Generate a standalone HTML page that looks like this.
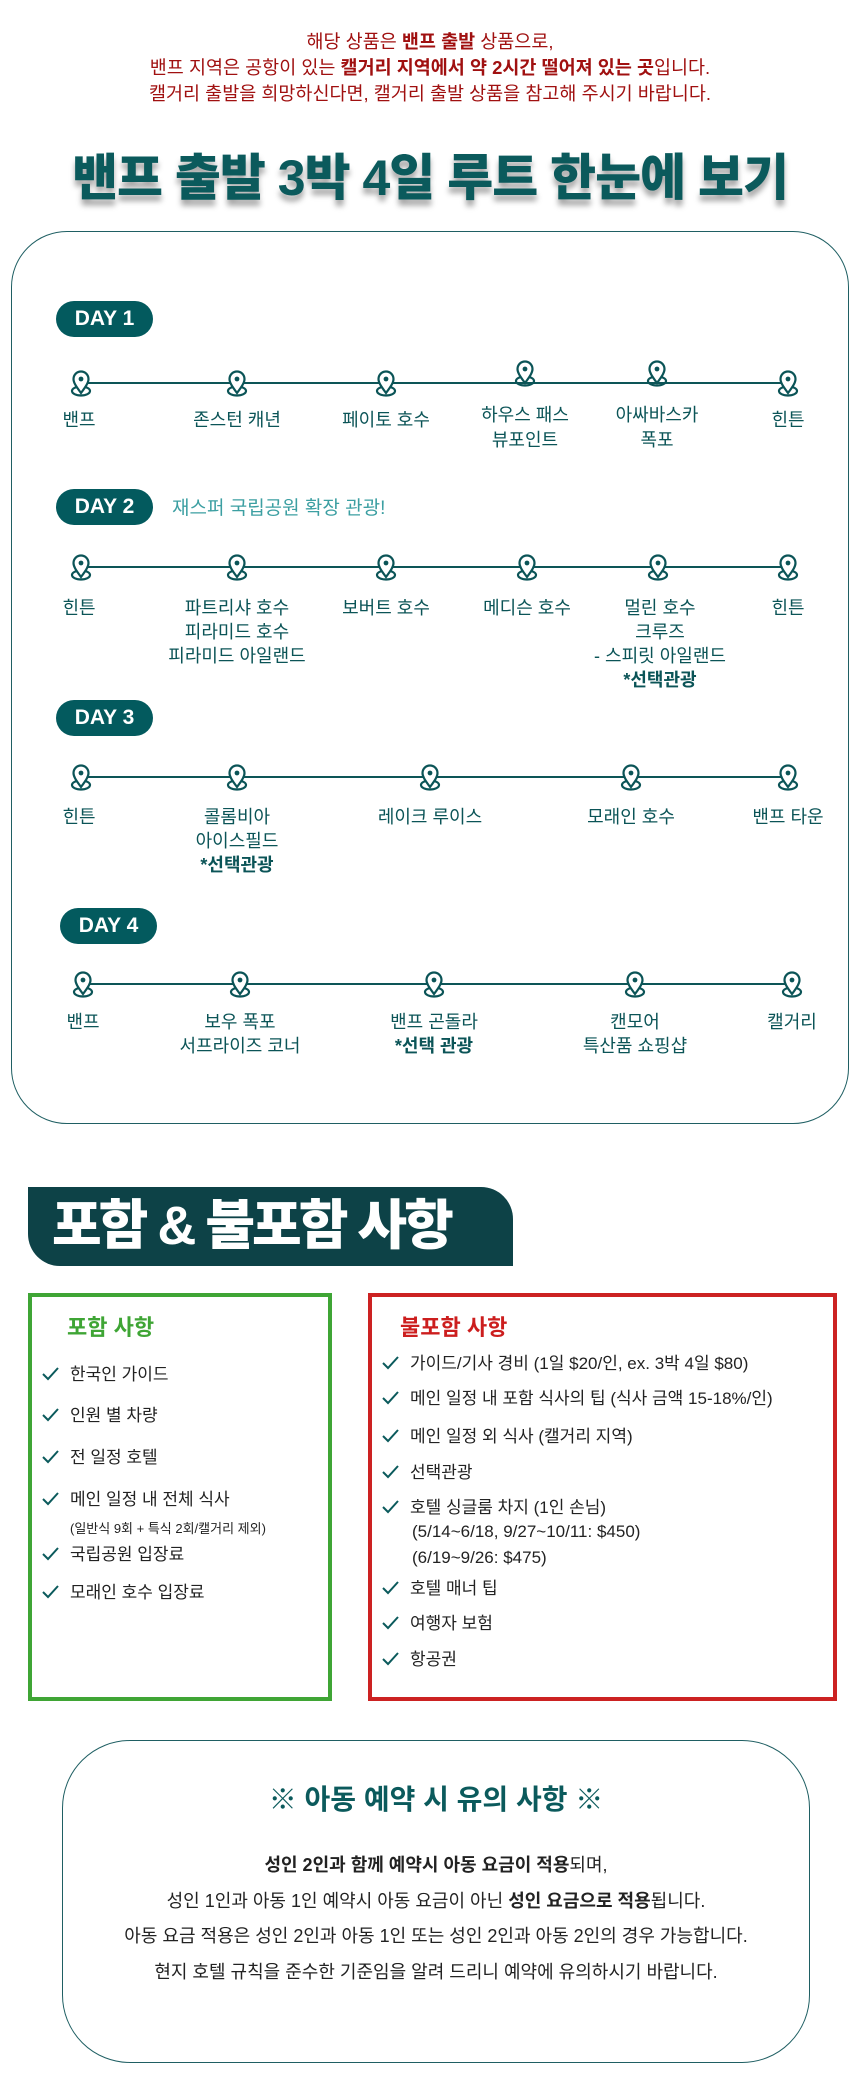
<!DOCTYPE html>
<html><head><meta charset="utf-8"><style>
*{margin:0;padding:0;box-sizing:border-box}
body{width:860px;height:2100px;background:#fff;position:relative;overflow:hidden;font-family:"Liberation Sans","Noto Sans CJK KR",sans-serif}
.a{position:absolute}
.c{position:absolute;transform:translateX(-50%);text-align:center;white-space:nowrap}
.red{color:#a01010;font-size:18.5px;line-height:24px;width:860px;text-align:center;left:0}
.title{left:0;width:860px;text-align:center;font-size:50px;font-weight:900;color:#0b5a5c;text-shadow:0 6px 6px rgba(0,0,0,.35);top:138px;letter-spacing:-1px}
.box{border:1.5px solid #1f5f63;border-radius:56px}
.pill{background:#035a5e;color:#fff;font-weight:700;font-size:21px;border-radius:20px;height:36px;line-height:36px;width:97px;text-align:center}
.line{height:2px;background:#0d5557}
.lbl{color:#0b5457;font-size:18px;line-height:25px}
.pin{position:absolute;width:24px;height:28px;transform:translateX(-50%)}
.hd{background:#0d4247;color:#fff;font-weight:900;font-size:54px;line-height:79px;border-radius:0 32px 0 32px;padding-left:24px;white-space:nowrap;letter-spacing:-3px;overflow:hidden}
.it{font-size:17px;color:#222;line-height:22px;white-space:nowrap}
.ck{display:inline-block;width:18px;height:14px;margin-right:10px;vertical-align:-1px}
</style></head><body>
<svg width="0" height="0" style="position:absolute"><defs>
<g id="p"><ellipse cx="12" cy="21" rx="9" ry="4.5" fill="none" stroke="#0b5457" stroke-width="2.2"/><path d="M12 23 C6 15 4.5 12 4.5 9 A7.5 7.5 0 0 1 19.5 9 C19.5 12 18 15 12 23Z" fill="#fff" stroke="#0b5457" stroke-width="2.2"/><circle cx="12" cy="9" r="2.4" fill="#0b5457"/></g>
<path id="k" d="M1 7 L6 12 L16 1" fill="none" stroke="#0b5a5c" stroke-width="2"/>
</defs></svg>
<div class="a red" style="top:30px">해당 상품은 <b>밴프 출발</b> 상품으로,</div>
<div class="a red" style="top:56px">밴프 지역은 공항이 있는 <b>캘거리 지역에서 약 2시간 떨어져 있는 곳</b>입니다.</div>
<div class="a red" style="top:82px">캘거리 출발을 희망하신다면, 캘거리 출발 상품을 참고해 주시기 바랍니다.</div>
<div class="a title">밴프 출발 3박 4일 루트 한눈에 보기</div>

<div class="a box" style="left:11px;top:231px;width:838px;height:893px"></div>

<!-- DAY1 -->
<div class="a pill" style="left:56px;top:301px">DAY 1</div>
<div class="a line" style="left:81px;top:382px;width:707px"></div>
<svg class="pin" style="left:81px;top:370px"><use href="#p"/></svg>
<svg class="pin" style="left:237px;top:370px"><use href="#p"/></svg>
<svg class="pin" style="left:386px;top:370px"><use href="#p"/></svg>
<svg class="pin" style="left:525px;top:360px"><use href="#p"/></svg>
<svg class="pin" style="left:657px;top:360px"><use href="#p"/></svg>
<svg class="pin" style="left:788px;top:370px"><use href="#p"/></svg>
<div class="c lbl" style="left:79px;top:408px">밴프</div>
<div class="c lbl" style="left:237px;top:408px">존스턴 캐년</div>
<div class="c lbl" style="left:386px;top:408px">페이토 호수</div>
<div class="c lbl" style="left:525px;top:403px">하우스 패스<br>뷰포인트</div>
<div class="c lbl" style="left:657px;top:403px">아싸바스카<br>폭포</div>
<div class="c lbl" style="left:788px;top:408px">힌튼</div>

<!-- DAY2 -->
<div class="a pill" style="left:56px;top:489px">DAY 2</div>
<div class="a" style="left:172px;top:493px;font-size:19px;color:#3c9fa2">재스퍼 국립공원 확장 관광!</div>
<div class="a line" style="left:81px;top:566px;width:707px"></div>
<svg class="pin" style="left:81px;top:554px"><use href="#p"/></svg>
<svg class="pin" style="left:237px;top:554px"><use href="#p"/></svg>
<svg class="pin" style="left:386px;top:554px"><use href="#p"/></svg>
<svg class="pin" style="left:527px;top:554px"><use href="#p"/></svg>
<svg class="pin" style="left:658px;top:554px"><use href="#p"/></svg>
<svg class="pin" style="left:788px;top:554px"><use href="#p"/></svg>
<div class="c lbl" style="left:79px;top:596px">힌튼</div>
<div class="c lbl" style="left:237px;top:596px;line-height:24px">파트리샤 호수<br>피라미드 호수<br>피라미드 아일랜드</div>
<div class="c lbl" style="left:386px;top:596px">보버트 호수</div>
<div class="c lbl" style="left:527px;top:596px">메디슨 호수</div>
<div class="c lbl" style="left:660px;top:596px;line-height:24px">멀린 호수<br>크루즈<br>- 스피릿 아일랜드<br><b>*선택관광</b></div>
<div class="c lbl" style="left:788px;top:596px">힌튼</div>

<!-- DAY3 -->
<div class="a pill" style="left:56px;top:700px">DAY 3</div>
<div class="a line" style="left:81px;top:776px;width:707px"></div>
<svg class="pin" style="left:81px;top:764px"><use href="#p"/></svg>
<svg class="pin" style="left:237px;top:764px"><use href="#p"/></svg>
<svg class="pin" style="left:430px;top:764px"><use href="#p"/></svg>
<svg class="pin" style="left:631px;top:764px"><use href="#p"/></svg>
<svg class="pin" style="left:788px;top:764px"><use href="#p"/></svg>
<div class="c lbl" style="left:79px;top:805px">힌튼</div>
<div class="c lbl" style="left:237px;top:805px;line-height:24px">콜롬비아<br>아이스필드<br><b>*선택관광</b></div>
<div class="c lbl" style="left:430px;top:805px">레이크 루이스</div>
<div class="c lbl" style="left:631px;top:805px">모래인 호수</div>
<div class="c lbl" style="left:788px;top:805px">밴프 타운</div>

<!-- DAY4 -->
<div class="a pill" style="left:60px;top:908px">DAY 4</div>
<div class="a line" style="left:83px;top:983px;width:707px"></div>
<svg class="pin" style="left:83px;top:971px"><use href="#p"/></svg>
<svg class="pin" style="left:240px;top:971px"><use href="#p"/></svg>
<svg class="pin" style="left:434px;top:971px"><use href="#p"/></svg>
<svg class="pin" style="left:635px;top:971px"><use href="#p"/></svg>
<svg class="pin" style="left:792px;top:971px"><use href="#p"/></svg>
<div class="c lbl" style="left:83px;top:1010px">밴프</div>
<div class="c lbl" style="left:240px;top:1010px;line-height:24px">보우 폭포<br>서프라이즈 코너</div>
<div class="c lbl" style="left:434px;top:1010px;line-height:24px">밴프 곤돌라<br><b>*선택 관광</b></div>
<div class="c lbl" style="left:635px;top:1010px;line-height:24px">캔모어<br>특산품 쇼핑샵</div>
<div class="c lbl" style="left:792px;top:1010px">캘거리</div>

<!-- header -->
<div class="a hd" style="left:28px;top:1187px;width:485px;height:79px">포함 &amp; 불포함 사항</div>

<div class="a" style="left:28px;top:1293px;width:304px;height:408px;border:4px solid #3fa535"></div>
<div class="a" style="left:67px;top:1310px;font-size:22px;font-weight:700;color:#3fa535">포함 사항</div>
<div class="a it" style="left:42px;top:1364px"><svg class="ck"><use href="#k"/></svg>한국인 가이드</div>
<div class="a it" style="left:42px;top:1405px"><svg class="ck"><use href="#k"/></svg>인원 별 차량</div>
<div class="a it" style="left:42px;top:1447px"><svg class="ck"><use href="#k"/></svg>전 일정 호텔</div>
<div class="a it" style="left:42px;top:1489px"><svg class="ck"><use href="#k"/></svg>메인 일정 내 전체 식사</div>
<div class="a" style="left:70px;top:1518px;font-size:13px;color:#222">(일반식 9회 + 특식 2회/캘거리 제외)</div>
<div class="a it" style="left:42px;top:1544px"><svg class="ck"><use href="#k"/></svg>국립공원 입장료</div>
<div class="a it" style="left:42px;top:1582px"><svg class="ck"><use href="#k"/></svg>모래인 호수 입장료</div>

<div class="a" style="left:368px;top:1293px;width:469px;height:408px;border:4px solid #cc2222"></div>
<div class="a" style="left:400px;top:1310px;font-size:22px;font-weight:700;color:#cc1e1e">불포함 사항</div>
<div class="a it" style="left:382px;top:1353px"><svg class="ck"><use href="#k"/></svg>가이드/기사 경비 (1일 $20/인, ex. 3박 4일 $80)</div>
<div class="a it" style="left:382px;top:1388px"><svg class="ck"><use href="#k"/></svg>메인 일정 내 포함 식사의 팁 (식사 금액 15-18%/인)</div>
<div class="a it" style="left:382px;top:1426px"><svg class="ck"><use href="#k"/></svg>메인 일정 외 식사 (캘거리 지역)</div>
<div class="a it" style="left:382px;top:1462px"><svg class="ck"><use href="#k"/></svg>선택관광</div>
<div class="a it" style="left:382px;top:1497px"><svg class="ck"><use href="#k"/></svg>호텔 싱글룸 차지 (1인 손님)</div>
<div class="a it" style="left:412px;top:1521px">(5/14~6/18, 9/27~10/11: $450)</div>
<div class="a it" style="left:412px;top:1547px">(6/19~9/26: $475)</div>
<div class="a it" style="left:382px;top:1578px"><svg class="ck"><use href="#k"/></svg>호텔 매너 팁</div>
<div class="a it" style="left:382px;top:1613px"><svg class="ck"><use href="#k"/></svg>여행자 보험</div>
<div class="a it" style="left:382px;top:1649px"><svg class="ck"><use href="#k"/></svg>항공권</div>

<div class="a box" style="left:62px;top:1740px;width:748px;height:323px;border-radius:68px"></div>
<div class="a" style="left:0;width:872px;text-align:center;top:1778px;font-size:28px;font-weight:700;color:#0b5a5c">※ 아동 예약 시 유의 사항 ※</div>
<div class="a" style="left:0;width:872px;text-align:center;top:1848px;font-size:18px;line-height:35.5px;color:#222">
<b>성인 2인과 함께 예약시 아동 요금이 적용</b>되며,<br>
성인 1인과 아동 1인 예약시 아동 요금이 아닌 <b>성인 요금으로 적용</b>됩니다.<br>
아동 요금 적용은 성인 2인과 아동 1인 또는 성인 2인과 아동 2인의 경우 가능합니다.<br>
현지 호텔 규칙을 준수한 기준임을 알려 드리니 예약에 유의하시기 바랍니다.</div>
</body></html>
